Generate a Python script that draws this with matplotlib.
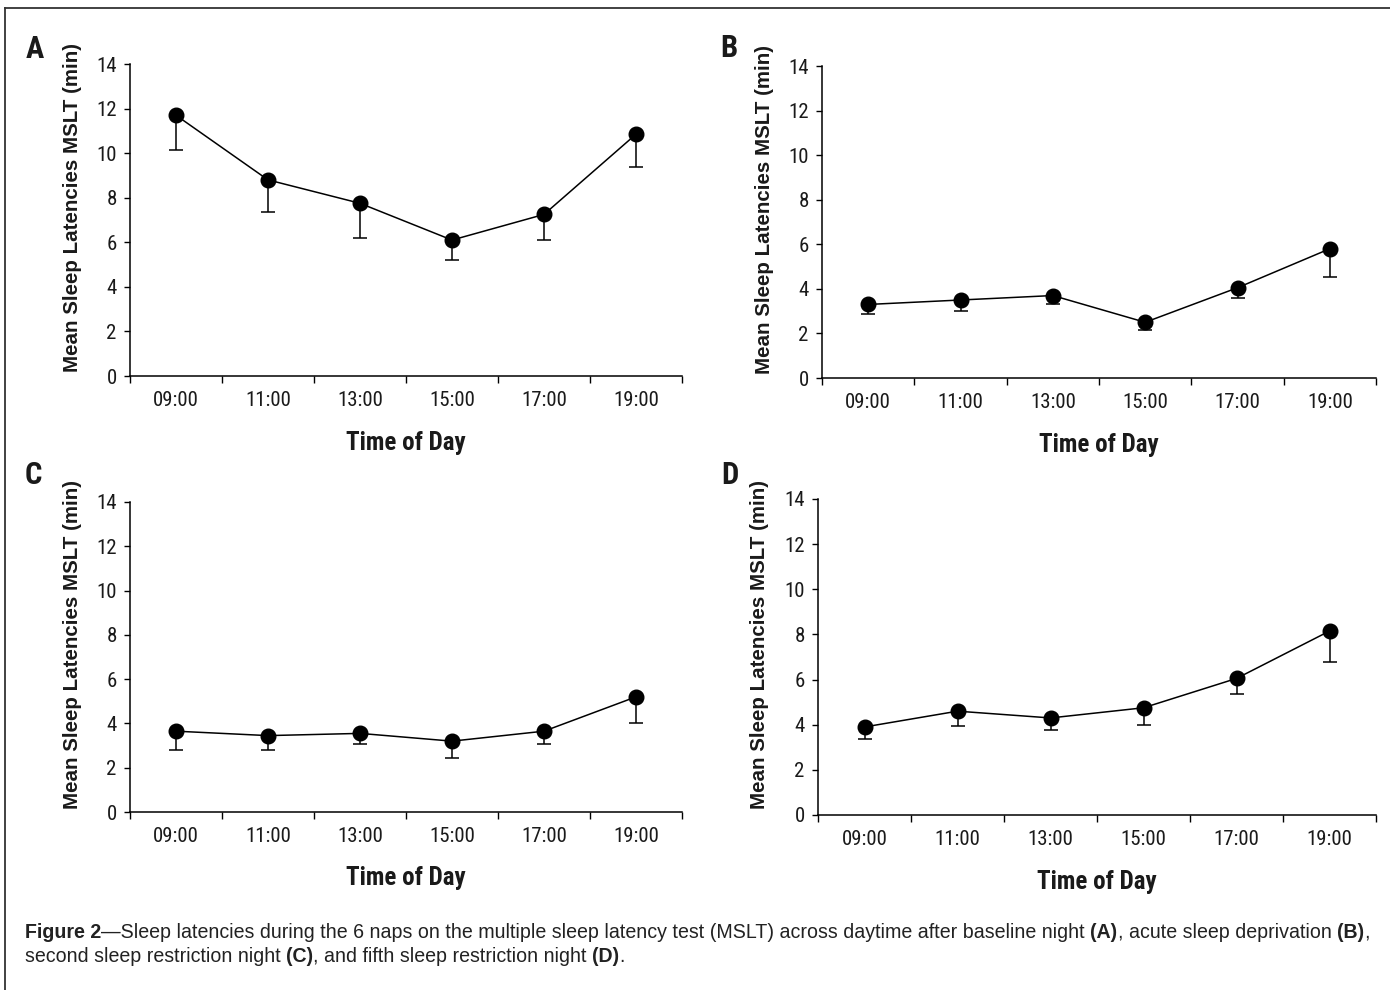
import matplotlib
matplotlib.use('Agg')
import matplotlib.pyplot as plt
from matplotlib.lines import Line2D
import numpy as np

# nap times (x categories)
times = ['09:00', '11:00', '13:00', '15:00', '17:00', '19:00']

# mean sleep latency (min) and lower error (min) per condition
mean_a = [11.7, 8.8, 7.75, 6.1, 7.25, 10.85]
err_a = [1.55, 1.45, 1.55, 0.9, 1.15, 1.45]

mean_b = [3.3, 3.5, 3.7, 2.5, 4.05, 5.8]
err_b = [0.45, 0.5, 0.4, 0.35, 0.45, 1.25]

mean_c = [3.65, 3.45, 3.55, 3.2, 3.65, 5.2]
err_c = [0.85, 0.65, 0.5, 0.75, 0.6, 1.2]

mean_d = [3.9, 4.6, 4.3, 4.75, 6.05, 8.15]
err_d = [0.55, 0.65, 0.55, 0.75, 0.7, 1.35]

yticks = [0, 2, 4, 6, 8, 10, 12, 14]

W, H = 1390, 990
NARROW = ['Roboto Condensed', 'Archivo Narrow', 'Liberation Sans', 'DejaVu Sans']
ARIAL = ['Liberation Sans', 'DejaVu Sans']
INK = '#1a1a1a'

fig = plt.figure(figsize=(W / 100, H / 100), dpi=100)
fig.patch.set_facecolor('white')


def px_rect(left, top, right, bottom):
    return [left / W, 1 - bottom / H, (right - left) / W, (bottom - top) / H]


def panel(rect, means, errs, letter, letter_xy):
    ax = fig.add_axes(rect)
    x = np.arange(len(times))
    ax.errorbar(x, means, yerr=[errs, np.zeros(len(errs))], fmt='none',
                ecolor='black', elinewidth=1.1, capsize=5, capthick=1.1, zorder=2)
    ax.plot(x, means, color='black', lw=1.1, marker='o', ms=10.5,
            clip_on=False, zorder=3)
    ax.set_xlim(-0.5, len(times) - 0.5)
    ax.set_ylim(0, 14)
    ax.set_yticks(yticks)
    ax.set_yticklabels([str(v) for v in yticks], family=NARROW, fontsize=15, color=INK)
    ax.set_xticks(np.arange(-0.5, len(times), 1))
    ax.set_xticklabels([])
    ax.set_xticks(x, minor=True)
    ax.set_xticklabels(times, minor=True, family=NARROW, fontsize=15, color=INK)
    ax.tick_params(axis='x', which='major', direction='out', length=5, width=1)
    ax.tick_params(axis='x', which='minor', length=0, pad=11)
    ax.tick_params(axis='y', direction='out', length=4.5, width=1, pad=5)
    for s in ['top', 'right']:
        ax.spines[s].set_visible(False)
    for s in ['left', 'bottom']:
        ax.spines[s].set_linewidth(1.1)
    ax.set_ylabel('Mean Sleep Latencies MSLT (min)', family=ARIAL,
                  fontsize=14.8, fontweight='bold', color=INK)
    ax.yaxis.set_label_coords(-0.087, 0.54)
    ax.set_xlabel('Time of Day', family=NARROW, fontsize=18,
                  fontweight='bold', color=INK, va='top')
    ax.xaxis.set_label_coords(0.5, -0.175)
    fig.text(letter_xy[0] / W, 1 - letter_xy[1] / H, letter, family=NARROW,
             fontsize=22, fontweight='bold', ha='center', va='center', color=INK)
    return ax


panel(px_rect(130, 64, 682, 376), mean_a, err_a, 'A', (35, 49))
panel(px_rect(822, 66, 1376, 378), mean_b, err_b, 'B', (729, 48))
panel(px_rect(130, 502, 682, 812), mean_c, err_c, 'C', (33, 475))
panel(px_rect(818, 499, 1376, 815), mean_d, err_d, 'D', (730, 475))

# caption with bold runs
line1 = [('Figure 2', 'bold'),
         ('\u2014Sleep latencies during the 6 naps on the multiple sleep latency test (MSLT) '
          'across daytime after baseline night ', 'normal'),
         ('(A)', 'bold'), (', acute sleep deprivation ', 'normal'),
         ('(B)', 'bold'), (',', 'normal')]
line2 = [('second sleep restriction night ', 'normal'), ('(C)', 'bold'),
         (', and fifth sleep restriction night ', 'normal'), ('(D)', 'bold'),
         ('.', 'normal')]

renderer = fig.canvas.get_renderer()


def caption_line(runs, x0, baseline):
    x = x0
    for txt, wt in runs:
        t = fig.text(x / W, 1 - baseline / H, txt, family=ARIAL, fontsize=14.1,
                     fontweight=wt, ha='left', va='baseline', color='#222222')
        bb = t.get_window_extent(renderer)
        x += bb.width


caption_line(line1, 25, 938)
caption_line(line2, 25, 962)

# frame around the figure (left and top edges visible)
fig.add_artist(Line2D([4.5 / W, 4.5 / W], [0, 1 - 7.5 / H], transform=fig.transFigure,
                      color='#333333', lw=1.3))
fig.add_artist(Line2D([4.5 / W, 1], [1 - 7.5 / H, 1 - 7.5 / H], transform=fig.transFigure,
                      color='#333333', lw=1.3))

fig.savefig('out.png', dpi=100)
